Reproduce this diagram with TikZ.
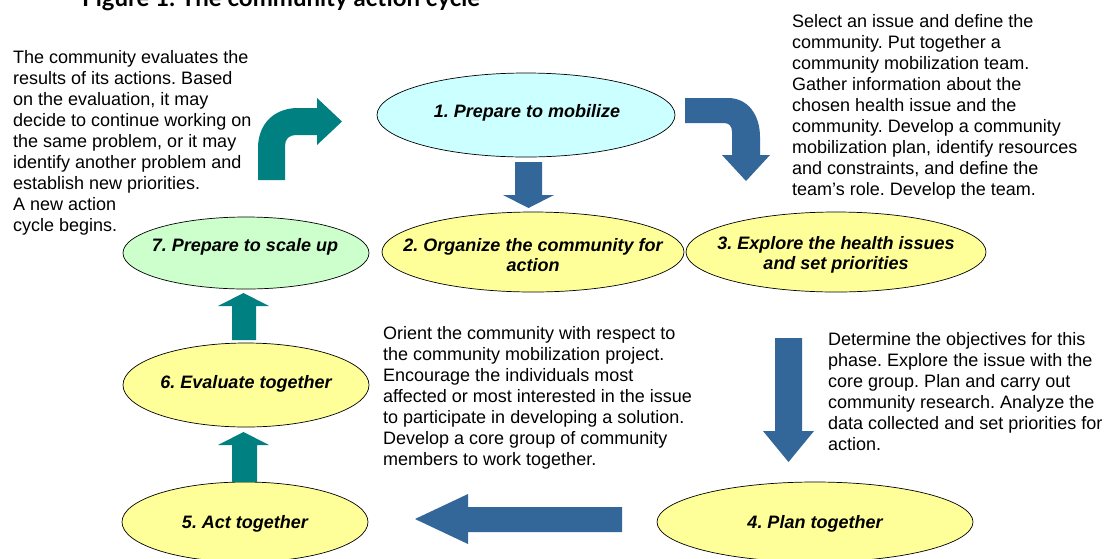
\documentclass[tikz,border=0pt]{standalone}
\usepackage{fontspec}
\setmainfont{Liberation Sans}
\newfontfamily\titlefont{Lato}
\usetikzlibrary{shapes.geometric}
\definecolor{arrowblue}{HTML}{336699}
\definecolor{arrowteal}{HTML}{008080}
\definecolor{cyanfill}{HTML}{CCFFFF}
\definecolor{yellowfill}{HTML}{FFFF99}
\definecolor{greenfill}{HTML}{CCFFCC}
\frenchspacing
\begin{document}
\begin{tikzpicture}[x=1pt,y=-1pt,
  stage/.style={draw=black, line width=0.7pt, ellipse, inner sep=0pt},
  lbl/.style={font=\fontsize{18}{20}\selectfont\bfseries\itshape, align=center, inner sep=0pt},
  body/.style={font=\fontsize{18}{21}\selectfont, align=left, anchor=north west, inner sep=0pt},
  blockblue/.style={fill=arrowblue},
  blockteal/.style={fill=arrowteal}]
\useasboundingbox (0,0) rectangle (1107,558);
\fill[white] (0,0) rectangle (1107,558);

% title (partly cut off at the top, as in the reference)
\node[font=\titlefont\fontsize{24}{24}\selectfont\bfseries, anchor=base west, inner sep=0pt] (title) at (82,6) {Figure 1: The community action cycle};

% stages
\node[stage, fill=cyanfill, minimum width=298, minimum height=84] (s1) at (526,115) {};
\node[stage, fill=yellowfill, minimum width=302, minimum height=80] (s2) at (533,252) {};
\node[stage, fill=yellowfill, minimum width=300, minimum height=80] (s3) at (836,252) {};
\node[stage, fill=yellowfill, minimum width=316, minimum height=80] (s4) at (815,522) {};
\node[stage, fill=yellowfill, minimum width=246, minimum height=80] (s5) at (245,522) {};
\node[stage, fill=yellowfill, minimum width=246, minimum height=84] (s6) at (246,385) {};
\node[stage, fill=greenfill, minimum width=246, minimum height=72] (s7) at (246,253) {};

\node[lbl] (l1) at (527,113) {1. Prepare to mobilize};
\node[lbl] (l2) at (533,255) {2. Organize the community for\\action};
\node[lbl] (l3) at (836,255) {3. Explore the health issues\\and set priorities};
\node[lbl] (l4) at (815,524) {4. Plan together};
\node[lbl] (l5) at (245,524) {5. Act together};
\node[lbl] (l6) at (246,384) {6. Evaluate together};
\node[lbl] (l7) at (245,247) {7. Prepare to scale up};

% descriptions
\node[body] (d7) at (13,50) {The community evaluates the\\results of its actions. Based\\on the evaluation, it may\\decide to continue working on\\the same problem, or it may\\identify another problem and\\establish new priorities.\\A new action\\cycle begins.};
\node[body] (d1) at (792,14) {Select an issue and define the\\community. Put together a\\community mobilization team.\\Gather information about the\\chosen health issue and the\\community. Develop a community\\mobilization plan, identify resources\\and constraints, and define the\\team's role. Develop the team.};
\node[body] (d2) at (383,326) {Orient the community with respect to\\the community mobilization project.\\Encourage the individuals most\\affected or most interested in the issue\\to participate in developing a solution.\\Develop a core group of community\\members to work together.};
\node[body] (d3) at (828,332) {Determine the objectives for this\\phase. Explore the issue with the\\core group. Plan and carry out\\community research. Analyze the\\data collected and set priorities for\\action.};

% block arrows
\fill[blockblue] (515,162) -- (542,162) -- (542,195) -- (554,195) -- (528.5,208) -- (503,195) -- (515,195) -- cycle;
\fill[blockblue] (685,98) -- (728,98) .. controls (748,98) and (760,115) .. (760,137) -- (760,155) -- (770,155) -- (746,181) -- (722,155) -- (732,155) -- (732,132) .. controls (732,126) and (729,123) .. (724,123) -- (685,123) -- cycle;
\fill[blockblue] (775,338) -- (802,338) -- (802,431) -- (814,431) -- (788.5,462) -- (763,431) -- (775,431) -- cycle;
\fill[blockblue] (622,507) -- (622,532) -- (468,532) -- (468,544) -- (415,519) -- (468,494) -- (468,507) -- cycle;
\fill[blockteal] (258,180) -- (258,148) .. controls (258,124) and (274,108) .. (298,108) -- (317,108) -- (317,98) -- (342,121.5) -- (317,145) -- (317,135) -- (296,135) .. controls (289,135) and (285,139) .. (285,146) -- (285,180) -- cycle;
\fill[blockteal] (232,340) -- (232,306) -- (218,306) -- (243.5,293) -- (269,306) -- (256,306) -- (256,340) -- cycle;
\fill[blockteal] (232,482) -- (232,445) -- (218,445) -- (243.5,432) -- (269,445) -- (257,445) -- (257,482) -- cycle;
\end{tikzpicture}
\end{document}
